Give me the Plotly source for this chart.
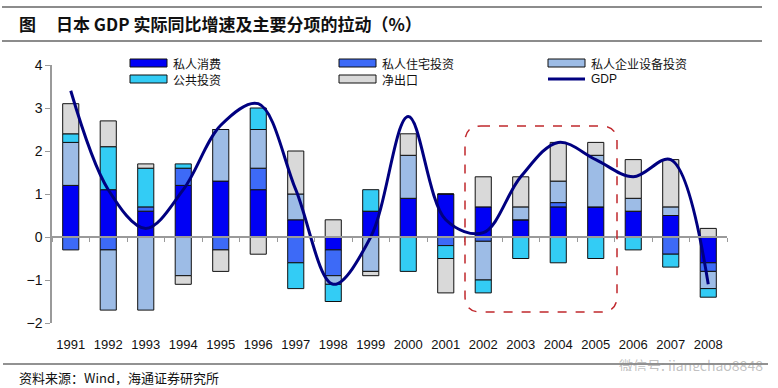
import plotly.graph_objects as go

years = [str(y) for y in range(1991, 2009)]
consumption = [1.2, 1.1, 0.6, 1.2, 1.3, 1.1, 0.4, -0.3, 0.6, 0.9, 1.0, 0.7, 0.4, 0.7, 0.7, 0.6, 0.5, -0.6]
residential = [-0.3, -0.3, 0.1, 0.4, -0.3, 0.5, -0.6, -0.6, 0.0, 0.0, -0.2, -0.1, 0.0, 0.1, 0.0, 0.0, -0.4, -0.2]
equipment = [1.0, -1.4, -1.7, -0.9, 1.2, 0.9, 0.6, -0.2, -0.8, 1.0, 0.0, -0.9, 0.3, 0.5, 1.2, 0.3, 0.2, -0.4]
public = [0.2, 1.0, 0.9, 0.1, 0.0, 0.5, -0.6, -0.4, 0.5, -0.8, -0.3, -0.3, -0.5, -0.6, -0.5, -0.3, -0.3, -0.2]
net_exports = [0.7, 0.6, 0.1, -0.2, -0.5, -0.4, 1.0, 0.4, -0.1, 0.5, -0.8, 0.7, 0.7, 0.9, 0.3, 0.9, 1.1, 0.2]
gdp = [3.4, 1.1, 0.2, 1.1, 2.6, 3.1, 1.1, -1.1, 0.0, 2.8, 0.4, 0.1, 1.4, 2.2, 1.8, 1.4, 1.8, -1.1]

series_names = ["私人消费", "私人住宅投资", "私人企业设备投资", "公共投资", "净出口"]
series_values = [consumption, residential, equipment, public, net_exports]
series_colors = ["#0000F5", "#3D6AF7", "#9DBCE6", "#33CCF5", "#D9D9D9"]
gdp_color = "#000080"

y_ticks = [-2, -1, 0, 1, 2, 3, 4]

# plot area in pixels
L, R, T, B = 52, 727, 65, 323
W, H = R - L, B - T


def px(x):
    return (x - L) / W


def py(y):
    return (B - y) / H


fig = go.Figure()
for name, vals, col in zip(series_names, series_values, series_colors):
    fig.add_trace(go.Bar(x=years, y=vals, name=name, marker=dict(color=col, line=dict(color="#111111", width=1)),
                         width=0.43, showlegend=False))

fig.add_trace(go.Scatter(x=years, y=gdp, name="GDP", mode="lines",
                         line=dict(color=gdp_color, width=3, shape="spline", smoothing=1.0), showlegend=False))

# helper trace for bottom tick labels axis
fig.add_trace(go.Scatter(x=years, y=[None] * len(years), xaxis="x2", mode="lines", showlegend=False, hoverinfo="skip"))

shapes = []
annotations = []

# title rules
for yy in (7, 41):
    shapes.append(dict(type="line", xref="paper", yref="paper", x0=px(2), x1=px(762), y0=py(yy), y1=py(yy),
                       line=dict(color="#8C8C8C", width=2)))
shapes.append(dict(type="line", xref="paper", yref="paper", x0=px(3), x1=px(768), y0=py(364), y1=py(364),
                   line=dict(color="#6E6E6E", width=1.5)))

annotations.append(dict(xref="paper", yref="paper", x=px(17), y=py(24), text="<b>图</b>", showarrow=False,
                        xanchor="left", yanchor="middle", font=dict(family="Noto Sans CJK SC", size=17, color="#111")))
annotations.append(dict(xref="paper", yref="paper", x=px(54), y=py(24),
                        text="<b>日本 GDP 实际同比增速及主要分项的拉动（%）</b>", showarrow=False,
                        xanchor="left", yanchor="middle", font=dict(family="Noto Sans CJK SC", size=17, color="#111")))
annotations.append(dict(xref="paper", yref="paper", x=px(17), y=py(377),
                        text="资料来源：Wind，海通证券研究所", showarrow=False, height=16,
                        xanchor="left", yanchor="middle", font=dict(family="Noto Sans CJK SC", size=13, color="#111")))
annotations.append(dict(xref="paper", yref="paper", x=px(765), y=py(365),
                        text="微信号: jiangchao8848", showarrow=False, height=12,
                        xanchor="right", yanchor="middle",
                        font=dict(family="Noto Sans CJK SC", size=14, color="rgba(140,140,140,0.55)")))

# custom legend
legend_items = [
    ("私人消费", series_colors[0], 130, 63, "bar"),
    ("私人住宅投资", series_colors[1], 339, 63, "bar"),
    ("私人企业设备投资", series_colors[2], 548, 63, "bar"),
    ("公共投资", series_colors[3], 130, 79, "bar"),
    ("净出口", series_colors[4], 339, 79, "bar"),
    ("GDP", gdp_color, 548, 79, "line"),
]
for name, col, lx, ly, kind in legend_items:
    if kind == "bar":
        shapes.append(dict(type="rect", xref="paper", yref="paper", x0=px(lx), x1=px(lx + 37),
                           y0=py(ly - 4), y1=py(ly + 4), fillcolor=col, line=dict(color="#111", width=1)))
    else:
        shapes.append(dict(type="line", xref="paper", yref="paper", x0=px(lx), x1=px(lx + 37),
                           y0=py(ly), y1=py(ly), line=dict(color=col, width=3)))
    fam = "Liberation Sans" if name == "GDP" else "Noto Sans CJK SC"
    annotations.append(dict(xref="paper", yref="paper", x=px(lx + 41), y=py(ly), text=name, showarrow=False,
                            xanchor="left", yanchor="middle", height=14,
                            font=dict(family=fam, size=12, color="#111")))

# dashed rounded highlight box (2002-2005)
bx0, bx1, by0, by1, r = px(465), px(617), py(126), py(312), 16
rx, ry = r / W, r / H
path = (f"M {bx0 + rx},{by0} L {bx1 - rx},{by0} Q {bx1},{by0} {bx1},{by0 - ry} "
        f"L {bx1},{by1 + ry} Q {bx1},{by1} {bx1 - rx},{by1} L {bx0 + rx},{by1} "
        f"Q {bx0},{by1} {bx0},{by1 + ry} L {bx0},{by0 - ry} Q {bx0},{by0} {bx0 + rx},{by0} Z")
shapes.append(dict(type="path", xref="paper", yref="paper", path=path,
                   line=dict(color="#C0282D", width=1.5, dash="dash")))

fig.update_layout(
    width=778, height=388,
    margin=dict(l=L, r=778 - R, t=T, b=388 - B),
    paper_bgcolor="white", plot_bgcolor="white",
    barmode="relative", bargap=0.57,
    showlegend=False,
    font=dict(family="Liberation Sans, Arial", size=13, color="#111"),
    xaxis=dict(type="category", categoryorder="array", categoryarray=years, range=[-0.5, 17.5],
               anchor="free", position=1 / 3, showline=True, linecolor="#9A9A9A", linewidth=2,
               ticks="outside", tickson="boundaries", ticklen=4, tickcolor="#9A9A9A",
               showticklabels=False, showgrid=False, zeroline=False),
    xaxis2=dict(type="category", categoryorder="array", categoryarray=years, range=[-0.5, 17.5],
                overlaying="x", anchor="y", side="bottom", showline=False,
                ticks="outside", ticklen=9, tickcolor="rgba(0,0,0,0)",
                showticklabels=True, showgrid=False, zeroline=False,
                tickfont=dict(family="Liberation Sans, Arial", size=13, color="#111")),
    yaxis=dict(range=[-2, 4], tickvals=y_ticks, showline=True, linecolor="#9A9A9A", linewidth=1.5,
               ticks="outside", ticklen=5, tickcolor="#9A9A9A", showgrid=False, zeroline=False,
               tickfont=dict(family="Liberation Sans, Arial", size=14, color="#111")),
    shapes=shapes,
    annotations=annotations,
)

fig.write_html("out.html", config={"displayModeBar": False},
               post_script="document.body.style.margin='0';document.body.style.overflow='hidden';")
